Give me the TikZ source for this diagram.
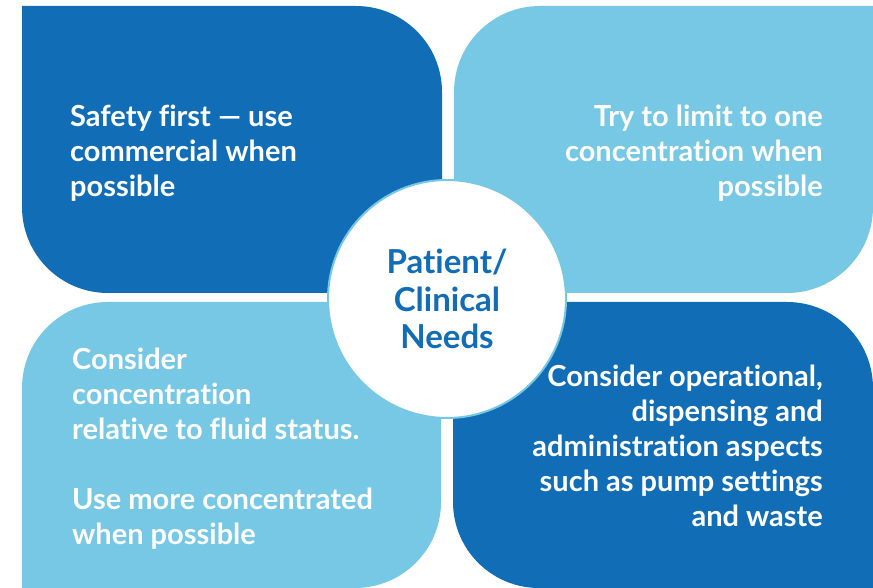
\documentclass[tikz,border=0pt]{standalone}
\usepackage{fontspec}
\setmainfont{Lato}[Ligatures=NoCommon]
\usepackage{tikz}
\definecolor{darkblue}{RGB}{16,109,182}
\definecolor{lightblue}{RGB}{118,200,228}

\begin{document}
\begin{tikzpicture}[x=1pt,y=1pt,
    quadtext/.style={inner sep=0pt,text=white,font=\bfseries\fontsize{29}{35}\selectfont},
    hubtext/.style={circle,draw=lightblue,line width=2pt,fill=white,minimum size=238pt,
      inner sep=0pt,align=center,text=darkblue,font=\bfseries\fontsize{33}{37.5}\selectfont}]

    \useasboundingbox (0,0) rectangle (873,587);

    % Quadrants, each with one pair of rounded corners
    \fill[darkblue] (22,581) -- (356,581) arc[start angle=90,end angle=0,radius=86]
      -- (442,294) -- (108,294) arc[start angle=270,end angle=180,radius=86] -- cycle;
    \fill[lightblue] (454,495) arc[start angle=180,end angle=90,radius=86]
      -- (873,581) -- (873,380) arc[start angle=0,end angle=-90,radius=86] -- (454,294) -- cycle;
    \fill[lightblue] (22,199) arc[start angle=180,end angle=90,radius=86]
      -- (441,285) -- (441,85) arc[start angle=0,end angle=-90,radius=86] -- (22,-1) -- cycle;
    \fill[darkblue] (453,285) -- (787,285) arc[start angle=90,end angle=0,radius=86]
      -- (873,-1) -- (539,-1) arc[start angle=270,end angle=180,radius=86] -- cycle;

    % Quadrant texts
    \node[quadtext,align=left,anchor=north west] (safety) at (70,482)
      {Safety first — use\\commercial when\\possible};
    \node[quadtext,align=right,anchor=north east] (limit) at (823,482)
      {Try to limit to one\\concentration when\\possible};
    \node[quadtext,align=left,anchor=north west] (fluid) at (72,239)
      {Consider\\concentration\\relative to fluid status.\\[35pt]Use more concentrated\\when possible};
    \node[quadtext,align=right,anchor=north east] (operations) at (823,222)
      {Consider operational,\\dispensing and\\administration aspects\\such as pump settings\\and waste};

    % Centre circle
    \node[hubtext] (needs) at (447,288) {Patient/\\Clinical\\Needs};
  \end{tikzpicture}
\end{document}
